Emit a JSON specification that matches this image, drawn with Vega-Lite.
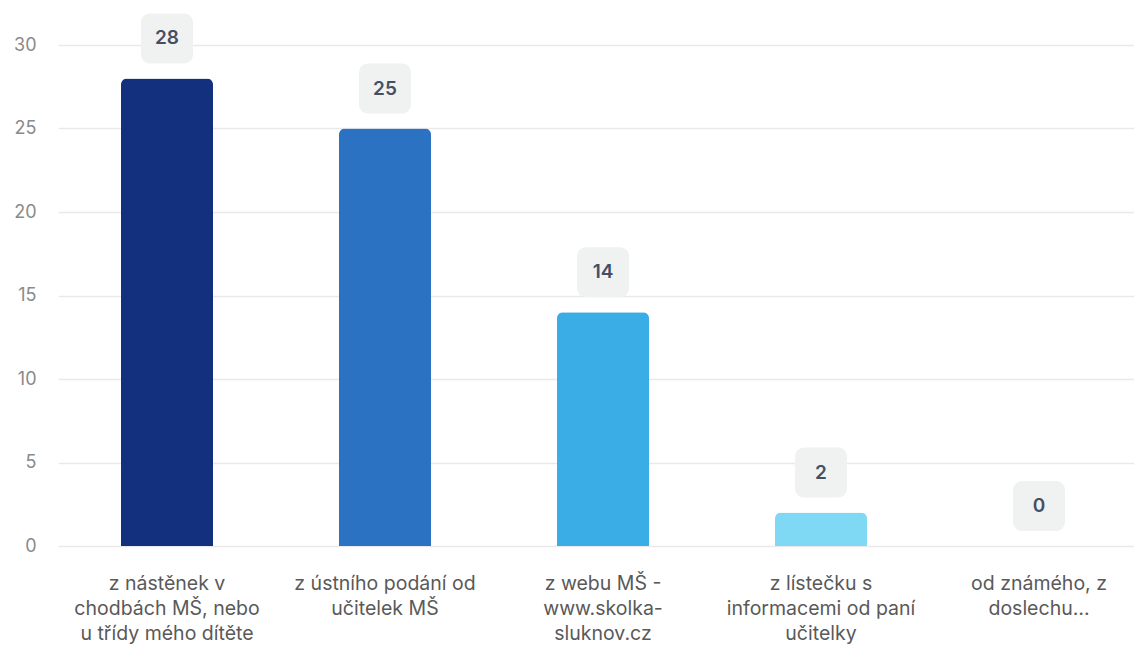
{
  "$schema": "https://vega.github.io/schema/vega-lite/v6.json",
  "autosize": {"type": "none"},
  "padding": {"left": 58, "top": 45, "right": -14, "bottom": 102},
  "width": 1090,
  "height": 501,
  "background": "white",
  "config": {"view": {"stroke": null}, "font": "Inter"},
  "data": {"values": [
    {"odpoved": "z nástěnek v\nchodbách MŠ, nebo\nu třídy mého dítěte", "pocet": 28, "barva": "#13307f"},
    {"odpoved": "z ústního podání od\nučitelek MŠ", "pocet": 25, "barva": "#2b72c3"},
    {"odpoved": "z webu MŠ -\nwww.skolka-\nsluknov.cz", "pocet": 14, "barva": "#3aace6"},
    {"odpoved": "z lístečku s\ninformacemi od paní\nučitelky", "pocet": 2, "barva": "#80d9f4"},
    {"odpoved": "od známého, z\ndoslechu…", "pocet": 0, "barva": "#80d9f4"}
  ]},
  "encoding": {
    "x": {"field": "odpoved", "type": "nominal", "sort": null,
      "scale": {"paddingInner": 0, "paddingOuter": 0},
      "axis": {"title": null, "labelAngle": 0, "domain": false, "ticks": false,
        "labelExpr": "split(datum.label, '\\n')", "labelFont": "Inter", "labelFontSize": 19.5,
        "labelColor": "#595959", "labelLineHeight": 25, "labelBaseline": "top", "labelPadding": 28, "labelLimit": 0}}
  },
  "layer": [
    {
      "mark": {"type": "bar", "width": 92, "cornerRadiusTopLeft": 6, "cornerRadiusTopRight": 6},
      "encoding": {
        "y": {"field": "pocet", "type": "quantitative", "scale": {"domain": [0, 30]},
          "axis": {"title": null, "values": [0, 5, 10, 15, 20, 25, 30], "domain": false, "ticks": false,
            "labelFont": "Inter", "labelFontSize": 18, "labelColor": "#8a8a8a", "labelPadding": 22,
            "gridColor": "#e9e9ec", "gridWidth": 1.5}},
        "color": {"field": "barva", "type": "nominal", "scale": null, "legend": null}
      }
    },
    {
      "mark": {"type": "rule", "color": "#d3d8ee", "strokeWidth": 2},
      "encoding": {"y": {"datum": 0, "type": "quantitative"}}
    },
    {
      "mark": {"type": "bar", "width": 52, "cornerRadius": 9, "color": "#f0f1f1", "yOffset": -65, "y2Offset": -15},
      "encoding": {
        "y": {"field": "pocet", "type": "quantitative"},
        "y2": {"field": "pocet"}
      }
    },
    {
      "mark": {"type": "text", "dy": -40, "font": "Inter", "fontSize": 19, "fontWeight": 600, "color": "#454f63", "baseline": "middle"},
      "encoding": {
        "y": {"field": "pocet", "type": "quantitative"},
        "text": {"field": "pocet", "type": "quantitative"}
      }
    }
  ]
}
